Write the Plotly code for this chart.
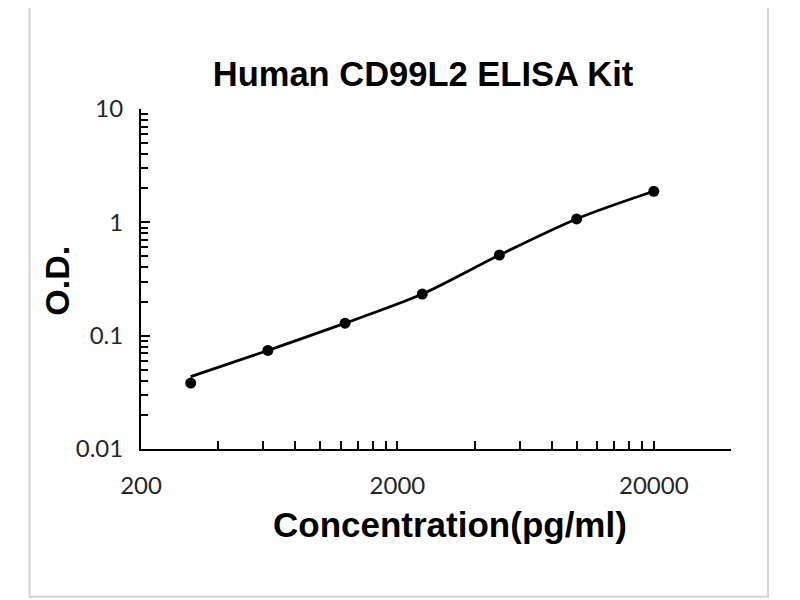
import plotly.graph_objects as go

# ---- data ----
concentration = [312.5, 625, 1250, 2500, 5000, 10000, 20000]
od_values = [0.0382, 0.0741, 0.129, 0.233, 0.515, 1.072, 1.878]
fit_values = [0.0435, 0.0741, 0.129, 0.233, 0.515, 1.072, 1.878]

x_tick_values = [200, 2000, 20000]
x_tick_labels = ["200", "2000", "20000"]
y_tick_values = [0.01, 0.1, 1, 10]
y_tick_labels = ["0.01", "0.1", "1", "10"]

x_minor_ticks = [200 * k * 10 ** j for j in range(0, 3) for k in range(2, 10)] + [40000]
x_minor_ticks = [v for v in x_minor_ticks if v <= 40000]
y_minor_ticks = [k * 10.0 ** j for j in range(-2, 1) for k in range(2, 10)]

title_text = "Human CD99L2 ELISA Kit"
x_title = "Concentration(pg/ml)"
y_title = "O.D."

# page offset of the figure inside the browser window (body margin)
OFF = 8
PL, PR, PT, PB = 141 - OFF, 731 - OFF, 109.3 - OFF, 449.3 - OFF
PW, PH = PR - PL, PB - PT


def px(xpix):
    return (xpix - OFF - PL) / PW


def py(ypix):
    return (PB - (ypix - OFF)) / PH


fig = go.Figure()
fig.add_trace(go.Scatter(
    x=concentration, y=fit_values, mode="lines",
    line=dict(color="black", width=2.7, shape="spline", smoothing=0.9),
    hoverinfo="skip", showlegend=False))
fig.add_trace(go.Scatter(
    x=concentration, y=od_values, mode="markers",
    marker=dict(color="black", size=11),
    showlegend=False))

tick_font = dict(family="Lato", size=24, color="#262626")
title_font = dict(family="Liberation Sans", size=34.5, color="black")
xtitle_font = dict(family="Liberation Sans", size=35, color="black")
ytitle_font = dict(family="Liberation Sans", size=34, color="black")

fig.update_layout(
    width=800, height=600,
    margin=dict(l=PL, r=800 - PR, t=PT, b=600 - PB, autoexpand=False),
    paper_bgcolor="white", plot_bgcolor="white",
    title=dict(text="<b>" + title_text + "</b>", font=title_font,
               x=(423 - OFF) / 800, xanchor="center", xref="container",
               y=1 - (73.5 - OFF) / 600, yanchor="middle", yref="container"),
    xaxis=dict(type="log", range=[2.30103, 4.60206],
               tickmode="array", tickvals=x_tick_values, ticktext=x_tick_labels,
               showgrid=False, zeroline=False,
               showline=True, linecolor="black", linewidth=2,
               ticks="inside", ticklen=8, tickwidth=2, tickcolor="black",
               tickfont=tick_font, ticklabelstandoff=14,
               minor=dict(tickmode="array", tickvals=x_minor_ticks, ticks="inside",
                          ticklen=8, tickwidth=2, tickcolor="black", showgrid=False)),
    yaxis=dict(type="log", range=[-2, 1],
               tickmode="array", tickvals=y_tick_values, ticktext=y_tick_labels,
               showgrid=False, zeroline=False,
               showline=True, linecolor="black", linewidth=2,
               ticks="inside", ticklen=9, tickwidth=2, tickcolor="black",
               tickfont=tick_font, ticklabelstandoff=11,
               minor=dict(tickmode="array", tickvals=y_minor_ticks, ticks="inside",
                          ticklen=7, tickwidth=2, tickcolor="black", showgrid=False)),
    annotations=[
        dict(text="<b>" + x_title + "</b>", xref="paper", yref="paper",
             x=px(449.7), y=py(525),
             xanchor="center", yanchor="middle", showarrow=False, font=xtitle_font),
        dict(text="<b>" + y_title + "</b>", xref="paper", yref="paper",
             x=px(57.5), y=py(281.5), textangle=-90,
             xanchor="center", yanchor="middle", showarrow=False, font=ytitle_font),
    ],
    shapes=[dict(type="rect", xref="paper", yref="paper",
                 x0=px(29.5), x1=px(768),
                 y0=py(597), y1=py(1),
                 line=dict(color="#d4d4d4", width=2), fillcolor="rgba(0,0,0,0)",
                 layer="below")],
)

fig.write_html("out.html")
